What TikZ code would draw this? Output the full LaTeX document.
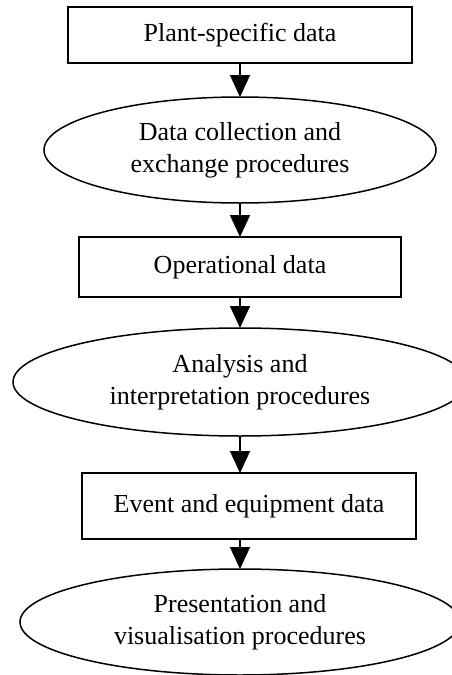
\documentclass[tikz,border=0pt]{standalone}
\usepackage{fontspec}
\setmainfont{Liberation Serif}
\usetikzlibrary{shapes.geometric,arrows.meta}
\begin{document}
\begin{tikzpicture}[x=1pt,y=-1pt,
  every node/.style={font=\fontsize{26}{32}\selectfont, align=center, inner sep=0pt, outer sep=0pt},
  boxnode/.style={draw, line width=1.5pt, rectangle},
  ellnode/.style={draw, line width=1.5pt, ellipse},
  arr/.style={line width=1.5pt, -{Triangle[length=22pt,width=20pt]}}]
\useasboundingbox (0,0) rectangle (451,675);
\node[boxnode, minimum width=344pt, minimum height=56pt] (b1) at (240,35) {Plant-specific data};
\node[ellnode, minimum width=392pt, minimum height=106pt] (e1) at (240,150) {Data collection and\\exchange procedures};
\node[boxnode, minimum width=322pt, minimum height=60pt] (b2) at (240,267) {Operational data};
\node[ellnode, minimum width=454pt, minimum height=108pt] (e2) at (240,382) {Analysis and\\interpretation procedures};
\node[boxnode, minimum width=334pt, minimum height=66pt] (b3) at (249,506) {Event and equipment data};
\node[ellnode, minimum width=440pt, minimum height=106pt] (e3) at (240,622) {Presentation and\\visualisation procedures};
\draw[arr] (b1.south) -- (e1.north);
\draw[arr] (e1.south) -- (b2.north);
\draw[arr] (b2.south) -- (e2.north);
\draw[arr] (e2.south) -- (e2.south |- b3.north);
\draw[arr] (e3.north |- b3.south) -- (e3.north);
\end{tikzpicture}
\end{document}
